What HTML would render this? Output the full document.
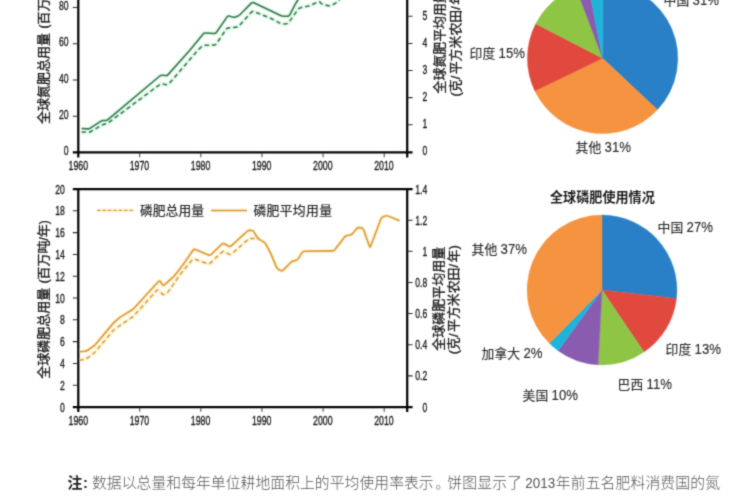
<!DOCTYPE html>
<html lang="zh"><head><meta charset="utf-8"><title>全球氮肥和磷肥使用情况</title>
<style>
html,body{margin:0;padding:0;background:#fff;overflow:hidden;width:750px;height:500px;position:relative}
svg{display:block;position:absolute;left:-10px;top:-10px;font-family:"Liberation Sans","Noto Sans CJK SC",sans-serif}
</style></head>
<body>
<svg width="770" height="520" viewBox="-10 -10 770 520">
<defs><filter id="soft" x="0" y="0" width="100%" height="100%" filterUnits="objectBoundingBox" color-interpolation-filters="sRGB"><feConvolveMatrix order="3" kernelMatrix="0.0277 0.111 0.0277 0.111 0.4452 0.111 0.0277 0.111 0.0277" divisor="1" edgeMode="duplicate" preserveAlpha="true"/></filter></defs>
<g filter="url(#soft)">
<rect x="-10" y="-10" width="770" height="520" fill="#fff"/>
<g stroke="#050505" stroke-width="2.25" fill="none">
<path d="M78.3,-8 V157.5 M407.2,-8 V157.5 M72.8,152.45 H412.6"/>
</g>
<g stroke="#2a2a2a" stroke-width="1.05" fill="none">
<path d="M72.8,116.2 H78.3 M72.8,79.95 H78.3 M72.8,43.7 H78.3 M72.8,7.45 H78.3"/>
<path d="M407.2,124.7 H412.6 M407.2,97.6 H412.6 M407.2,70.5 H412.6 M407.2,43.4 H412.6 M407.2,16.3 H412.6"/>
<path stroke-width="0.9" d="M139.72,152.45 V157.3 M200.84,152.45 V157.3 M261.96,152.45 V157.3 M323.08,152.45 V157.3 M384.2,152.45 V157.3"/>
</g>
<text transform="translate(63.7,155.05) scale(0.69,1)" font-size="12.5" fill="#1c1c1c" stroke="#1c1c1c" stroke-width="0.36">0</text>
<text transform="translate(58.91,118.8) scale(0.69,1)" font-size="12.5" fill="#1c1c1c" stroke="#1c1c1c" stroke-width="0.36">20</text>
<text transform="translate(58.91,82.55) scale(0.69,1)" font-size="12.5" fill="#1c1c1c" stroke="#1c1c1c" stroke-width="0.36">40</text>
<text transform="translate(58.91,46.3) scale(0.69,1)" font-size="12.5" fill="#1c1c1c" stroke="#1c1c1c" stroke-width="0.36">60</text>
<text transform="translate(58.91,10.05) scale(0.69,1)" font-size="12.5" fill="#1c1c1c" stroke="#1c1c1c" stroke-width="0.36">80</text>
<text transform="translate(422.6,155.2) scale(0.69,1)" font-size="12.5" fill="#1c1c1c" stroke="#1c1c1c" stroke-width="0.36">0</text>
<text transform="translate(422.6,128.1) scale(0.69,1)" font-size="12.5" fill="#1c1c1c" stroke="#1c1c1c" stroke-width="0.36">1</text>
<text transform="translate(422.6,101) scale(0.69,1)" font-size="12.5" fill="#1c1c1c" stroke="#1c1c1c" stroke-width="0.36">2</text>
<text transform="translate(422.6,73.9) scale(0.69,1)" font-size="12.5" fill="#1c1c1c" stroke="#1c1c1c" stroke-width="0.36">3</text>
<text transform="translate(422.6,46.8) scale(0.69,1)" font-size="12.5" fill="#1c1c1c" stroke="#1c1c1c" stroke-width="0.36">4</text>
<text transform="translate(422.6,19.7) scale(0.69,1)" font-size="12.5" fill="#1c1c1c" stroke="#1c1c1c" stroke-width="0.36">5</text>
<text transform="translate(68.53,170) scale(0.72,1)" font-size="12.2" fill="#1c1c1c" stroke="#1c1c1c" stroke-width="0.36">1960</text>
<text transform="translate(129.65,170) scale(0.72,1)" font-size="12.2" fill="#1c1c1c" stroke="#1c1c1c" stroke-width="0.36">1970</text>
<text transform="translate(190.77,170) scale(0.72,1)" font-size="12.2" fill="#1c1c1c" stroke="#1c1c1c" stroke-width="0.36">1980</text>
<text transform="translate(251.89,170) scale(0.72,1)" font-size="12.2" fill="#1c1c1c" stroke="#1c1c1c" stroke-width="0.36">1990</text>
<text transform="translate(313.01,170) scale(0.72,1)" font-size="12.2" fill="#1c1c1c" stroke="#1c1c1c" stroke-width="0.36">2000</text>
<text transform="translate(374.13,170) scale(0.72,1)" font-size="12.2" fill="#1c1c1c" stroke="#1c1c1c" stroke-width="0.36">2010</text>
<g transform="translate(47.8,124) rotate(-90)" fill="#1c1c1c" stroke="#1c1c1c" stroke-width="0.36" stroke-linejoin="round"><text x="0" y="0" font-size="13">全球氮肥总用量</text><text transform="translate(95.5,0) scale(0.9,1)" font-size="13" stroke-width="0.36">(</text><text x="99.4" y="0" font-size="13">百万吨</text><text transform="translate(138.4,0) scale(0.9,1)" font-size="13" stroke-width="0.36">/</text><text x="141.65" y="0" font-size="13">年</text><text transform="translate(154.65,0) scale(0.9,1)" font-size="13" stroke-width="0.36">)</text></g>
<g transform="translate(443.7,93.4) rotate(-90)" fill="#1c1c1c" stroke="#1c1c1c" stroke-width="0.36" stroke-linejoin="round"><text x="0" y="0" font-size="12.9">全球氮肥平均用量</text></g>
<g transform="translate(459.6,96.6) rotate(-90)" fill="#1c1c1c" stroke="#1c1c1c" stroke-width="0.36" stroke-linejoin="round"><text x="0" y="0" font-size="12.9">(</text><text x="4.36" y="0" font-size="12.9">克</text><text x="17.26" y="0" font-size="12.9">/</text><text x="22.32" y="0" font-size="12.9">平方米农田</text><text x="86.82" y="0" font-size="12.9">/</text><text x="91.87" y="0" font-size="12.9">年</text><text x="104.77" y="0" font-size="12.9">)</text></g>
<path d="M81.6,128.4 L87.41,128.87 Q89,129 90.33,128.12 L100.67,121.28 Q102,120.4 103.6,120.4 L105.4,120.4 Q107,120.4 108.22,119.37 L159.78,76.03 Q161,75 162.59,75.21 L165.41,75.59 Q167,75.8 168.06,74.61 L188.94,51.19 Q190,50 191.02,48.76 L202.98,34.24 Q204,33 205.6,33.08 L214,33.52 Q215.6,33.6 216.51,32.28 L227.09,16.92 Q228,15.6 229.52,16.11 L232.48,17.09 Q234,17.6 235.49,17.01 L237.51,16.19 Q239,15.6 240.12,14.46 L251.28,3.14 Q252.4,2 253.84,2.69 L280.56,15.51 Q282,16.2 283.6,16.2 L287.4,16.2 Q289,16.2 289.74,14.78 L294.26,6.02 Q295,4.6 295.85,3.24 L298.5,-1" fill="none" stroke="#c9f3d6" stroke-width="4.4" stroke-linejoin="round" opacity="0.5"/>
<path d="M81.6,132 L87.41,132.47 Q89,132.6 90.38,131.79 L100.62,125.81 Q102,125 103.52,124.49 L106.48,123.51 Q108,123 109.28,122.05 L159.72,84.55 Q161,83.6 162.57,83.91 L166.43,84.69 Q168,85 169.04,83.79 L196.96,51.21 Q198,50 199.18,48.92 L201.82,46.48 Q203,45.4 204.6,45.35 L214,45.05 Q215.6,45 216.49,43.67 L226.11,29.33 Q227,28 228.59,27.86 L236.41,27.14 Q238,27 239.07,25.81 L251.33,12.19 Q252.4,11 253.89,11.59 L268.51,17.41 Q270,18 271.42,18.73 L280.58,23.47 Q282,24.2 283.59,24.04 L286.41,23.76 Q288,23.6 288.92,22.29 L298.08,9.31 Q299,8 300.56,7.66 L308.44,5.94 Q310,5.6 311.45,4.92 L317.95,1.88 Q319.4,1.2 320.41,2.44 L320.99,3.16 Q322,4.4 323.57,4.71 L328.43,5.69 Q330,6 331.43,5.28 L334.57,3.72 Q336,3 337.13,1.87 L340,-1" fill="none" stroke="#c9f3d6" stroke-width="4.4" stroke-linejoin="round" opacity="0.5"/>
<path d="M81.6,128.4 L87.41,128.87 Q89,129 90.33,128.12 L100.67,121.28 Q102,120.4 103.6,120.4 L105.4,120.4 Q107,120.4 108.22,119.37 L159.78,76.03 Q161,75 162.59,75.21 L165.41,75.59 Q167,75.8 168.06,74.61 L188.94,51.19 Q190,50 191.02,48.76 L202.98,34.24 Q204,33 205.6,33.08 L214,33.52 Q215.6,33.6 216.51,32.28 L227.09,16.92 Q228,15.6 229.52,16.11 L232.48,17.09 Q234,17.6 235.49,17.01 L237.51,16.19 Q239,15.6 240.12,14.46 L251.28,3.14 Q252.4,2 253.84,2.69 L280.56,15.51 Q282,16.2 283.6,16.2 L287.4,16.2 Q289,16.2 289.74,14.78 L294.26,6.02 Q295,4.6 295.85,3.24 L298.5,-1" fill="none" stroke="#34784e" stroke-width="1.55" stroke-linejoin="round"/>
<path d="M81.6,132 L87.41,132.47 Q89,132.6 90.38,131.79 L100.62,125.81 Q102,125 103.52,124.49 L106.48,123.51 Q108,123 109.28,122.05 L159.72,84.55 Q161,83.6 162.57,83.91 L166.43,84.69 Q168,85 169.04,83.79 L196.96,51.21 Q198,50 199.18,48.92 L201.82,46.48 Q203,45.4 204.6,45.35 L214,45.05 Q215.6,45 216.49,43.67 L226.11,29.33 Q227,28 228.59,27.86 L236.41,27.14 Q238,27 239.07,25.81 L251.33,12.19 Q252.4,11 253.89,11.59 L268.51,17.41 Q270,18 271.42,18.73 L280.58,23.47 Q282,24.2 283.59,24.04 L286.41,23.76 Q288,23.6 288.92,22.29 L298.08,9.31 Q299,8 300.56,7.66 L308.44,5.94 Q310,5.6 311.45,4.92 L317.95,1.88 Q319.4,1.2 320.41,2.44 L320.99,3.16 Q322,4.4 323.57,4.71 L328.43,5.69 Q330,6 331.43,5.28 L334.57,3.72 Q336,3 337.13,1.87 L340,-1" fill="none" stroke="#34784e" stroke-width="1.55" stroke-linejoin="round" stroke-dasharray="4.3 3.1"/>
<g stroke="#050505" stroke-width="2.25" fill="none">
<path d="M78.3,188.0 V412 M407.2,188.0 V412 M72.8,189.0 H412.6 M72.8,407.0 H412.6"/>
</g>
<g stroke="#2a2a2a" stroke-width="1.05" fill="none">
<path d="M72.8,385.2 H78.3 M72.8,363.4 H78.3 M72.8,341.6 H78.3 M72.8,319.8 H78.3 M72.8,298 H78.3 M72.8,276.2 H78.3 M72.8,254.4 H78.3 M72.8,232.6 H78.3 M72.8,210.8 H78.3"/>
<path d="M407.2,375.86 H412.6 M407.2,344.72 H412.6 M407.2,313.58 H412.6 M407.2,282.44 H412.6 M407.2,251.3 H412.6 M407.2,220.16 H412.6"/>
<path stroke-width="0.9" d="M139.72,407.0 V411.8 M200.84,407.0 V411.8 M261.96,407.0 V411.8 M323.08,407.0 V411.8 M384.2,407.0 V411.8"/>
</g>
<text transform="translate(60,411.6) scale(0.69,1)" font-size="12.5" fill="#1c1c1c" stroke="#1c1c1c" stroke-width="0.36">0</text>
<text transform="translate(60,389.8) scale(0.69,1)" font-size="12.5" fill="#1c1c1c" stroke="#1c1c1c" stroke-width="0.36">2</text>
<text transform="translate(60,368) scale(0.69,1)" font-size="12.5" fill="#1c1c1c" stroke="#1c1c1c" stroke-width="0.36">4</text>
<text transform="translate(60,346.2) scale(0.69,1)" font-size="12.5" fill="#1c1c1c" stroke="#1c1c1c" stroke-width="0.36">6</text>
<text transform="translate(60,324.4) scale(0.69,1)" font-size="12.5" fill="#1c1c1c" stroke="#1c1c1c" stroke-width="0.36">8</text>
<text transform="translate(55.21,302.6) scale(0.69,1)" font-size="12.5" fill="#1c1c1c" stroke="#1c1c1c" stroke-width="0.36">10</text>
<text transform="translate(55.21,280.8) scale(0.69,1)" font-size="12.5" fill="#1c1c1c" stroke="#1c1c1c" stroke-width="0.36">12</text>
<text transform="translate(55.21,259) scale(0.69,1)" font-size="12.5" fill="#1c1c1c" stroke="#1c1c1c" stroke-width="0.36">14</text>
<text transform="translate(55.21,237.2) scale(0.69,1)" font-size="12.5" fill="#1c1c1c" stroke="#1c1c1c" stroke-width="0.36">16</text>
<text transform="translate(55.21,215.4) scale(0.69,1)" font-size="12.5" fill="#1c1c1c" stroke="#1c1c1c" stroke-width="0.36">18</text>
<text transform="translate(55.21,193.6) scale(0.69,1)" font-size="12.5" fill="#1c1c1c" stroke="#1c1c1c" stroke-width="0.36">20</text>
<text transform="translate(422.5,411.5) scale(0.69,1)" font-size="12.5" fill="#1c1c1c" stroke="#1c1c1c" stroke-width="0.36">0</text>
<text transform="translate(415.31,380.36) scale(0.69,1)" font-size="12.5" fill="#1c1c1c" stroke="#1c1c1c" stroke-width="0.36">0.2</text>
<text transform="translate(415.31,349.22) scale(0.69,1)" font-size="12.5" fill="#1c1c1c" stroke="#1c1c1c" stroke-width="0.36">0.4</text>
<text transform="translate(415.31,318.08) scale(0.69,1)" font-size="12.5" fill="#1c1c1c" stroke="#1c1c1c" stroke-width="0.36">0.6</text>
<text transform="translate(415.31,286.94) scale(0.69,1)" font-size="12.5" fill="#1c1c1c" stroke="#1c1c1c" stroke-width="0.36">0.8</text>
<text transform="translate(422.5,255.8) scale(0.69,1)" font-size="12.5" fill="#1c1c1c" stroke="#1c1c1c" stroke-width="0.36">1</text>
<text transform="translate(415.31,224.66) scale(0.69,1)" font-size="12.5" fill="#1c1c1c" stroke="#1c1c1c" stroke-width="0.36">1.2</text>
<text transform="translate(415.31,193.52) scale(0.69,1)" font-size="12.5" fill="#1c1c1c" stroke="#1c1c1c" stroke-width="0.36">1.4</text>
<text transform="translate(68.53,424.9) scale(0.72,1)" font-size="12.2" fill="#1c1c1c" stroke="#1c1c1c" stroke-width="0.36">1960</text>
<text transform="translate(129.65,424.9) scale(0.72,1)" font-size="12.2" fill="#1c1c1c" stroke="#1c1c1c" stroke-width="0.36">1970</text>
<text transform="translate(190.77,424.9) scale(0.72,1)" font-size="12.2" fill="#1c1c1c" stroke="#1c1c1c" stroke-width="0.36">1980</text>
<text transform="translate(251.89,424.9) scale(0.72,1)" font-size="12.2" fill="#1c1c1c" stroke="#1c1c1c" stroke-width="0.36">1990</text>
<text transform="translate(313.01,424.9) scale(0.72,1)" font-size="12.2" fill="#1c1c1c" stroke="#1c1c1c" stroke-width="0.36">2000</text>
<text transform="translate(374.13,424.9) scale(0.72,1)" font-size="12.2" fill="#1c1c1c" stroke="#1c1c1c" stroke-width="0.36">2010</text>
<g transform="translate(47.7,378.8) rotate(-90)" fill="#1c1c1c" stroke="#1c1c1c" stroke-width="0.36" stroke-linejoin="round"><text x="0" y="0" font-size="13">全球磷肥总用量</text><text transform="translate(95.5,0) scale(0.9,1)" font-size="13" stroke-width="0.36">(</text><text x="99.4" y="0" font-size="13">百万吨</text><text transform="translate(138.4,0) scale(0.9,1)" font-size="13" stroke-width="0.36">/</text><text x="141.65" y="0" font-size="13">年</text><text transform="translate(154.65,0) scale(0.9,1)" font-size="13" stroke-width="0.36">)</text></g>
<g transform="translate(442.9,350.8) rotate(-90)" fill="#1c1c1c" stroke="#1c1c1c" stroke-width="0.36" stroke-linejoin="round"><text x="0" y="0" font-size="13">全球磷肥平均用量</text></g>
<g transform="translate(458.4,354.3) rotate(-90)" fill="#1c1c1c" stroke="#1c1c1c" stroke-width="0.36" stroke-linejoin="round"><text x="0" y="0" font-size="12.9">(</text><text x="4.36" y="0" font-size="12.9">克</text><text x="17.26" y="0" font-size="12.9">/</text><text x="22.32" y="0" font-size="12.9">平方米农田</text><text x="86.82" y="0" font-size="12.9">/</text><text x="91.87" y="0" font-size="12.9">年</text><text x="104.77" y="0" font-size="12.9">)</text></g>
<path d="M79.2,351.7 L84.8,351.31 Q86.4,351.2 87.7,350.27 L93.5,346.13 Q94.8,345.2 95.83,343.98 L112.97,323.62 Q114,322.4 115.23,321.38 L119.97,317.42 Q121.2,316.4 122.57,315.58 L131.83,310.02 Q133.2,309.2 134.28,308.02 L144.12,297.18 Q145.2,296 146.29,294.82 L158.51,281.58 Q159.6,280.4 160.48,281.74 L162.32,284.56 Q163.2,285.9 164.4,284.84 L172.8,277.36 Q174,276.3 174.99,275.05 L180.21,268.45 Q181.2,267.2 182.12,265.89 L193.08,250.31 Q194,249 195.48,249.61 L208.52,254.99 Q210,255.6 211.15,254.49 L221.85,244.11 Q223,243 224.39,243.79 L228.61,246.21 Q230,247 231.18,245.92 L247.22,231.28 Q248.4,230.2 249.99,230.37 L251.61,230.53 Q253.2,230.7 254.03,232.07 L257.17,237.23 Q258,238.6 259.37,239.42 L263.83,242.08 Q265.2,242.9 265.94,244.32 L270.46,252.98 Q271.2,254.4 271.82,255.88 L276.58,267.32 Q277.2,268.8 278.63,269.52 L280.57,270.48 Q282,271.2 283.13,270.07 L290.47,262.73 Q291.6,261.6 293.13,261.12 L296.07,260.18 Q297.6,259.7 298.45,258.35 L302.05,252.65 Q302.9,251.3 304.5,251.27 L332.4,250.83 Q334,250.8 334.97,249.53 L344.63,236.97 Q345.6,235.7 347.18,235.44 L350.02,234.96 Q351.6,234.7 352.62,233.47 L356.58,228.73 Q357.6,227.5 359.19,227.65 L361.31,227.85 Q362.9,228 363.44,229.51 L369.46,246.19 Q370,247.7 370.57,246.2 L381.03,218.7 Q381.6,217.2 383.12,216.71 L385.38,215.99 Q386.9,215.5 388.38,216.12 L399.6,220.8" fill="none" stroke="#fdebb4" stroke-width="4.2" stroke-linejoin="round" opacity="0.5"/>
<path d="M79.2,360.3 L84.83,359.21 Q86.4,358.9 87.67,357.92 L93.53,353.38 Q94.8,352.4 95.83,351.18 L112.97,330.82 Q114,329.6 115.32,328.69 L131.88,317.31 Q133.2,316.4 134.28,315.22 L156.62,290.58 Q157.7,289.4 158.83,290.53 L162.17,293.87 Q163.3,295 164.67,294.18 L166.63,293.02 Q168,292.2 168.9,290.88 L179.2,275.82 Q180.1,274.5 181.12,273.27 L192.18,259.83 Q193.2,258.6 194.71,259.13 L207.49,263.67 Q209,264.2 210.17,263.11 L221.83,252.19 Q223,251.1 224.43,251.82 L229.07,254.18 Q230.5,254.9 231.7,253.84 L248,239.46 Q249.2,238.4 250.8,238.42 L258.5,238.5" fill="none" stroke="#fdebb4" stroke-width="4.2" stroke-linejoin="round" opacity="0.5"/>
<path d="M79.2,351.7 L84.8,351.31 Q86.4,351.2 87.7,350.27 L93.5,346.13 Q94.8,345.2 95.83,343.98 L112.97,323.62 Q114,322.4 115.23,321.38 L119.97,317.42 Q121.2,316.4 122.57,315.58 L131.83,310.02 Q133.2,309.2 134.28,308.02 L144.12,297.18 Q145.2,296 146.29,294.82 L158.51,281.58 Q159.6,280.4 160.48,281.74 L162.32,284.56 Q163.2,285.9 164.4,284.84 L172.8,277.36 Q174,276.3 174.99,275.05 L180.21,268.45 Q181.2,267.2 182.12,265.89 L193.08,250.31 Q194,249 195.48,249.61 L208.52,254.99 Q210,255.6 211.15,254.49 L221.85,244.11 Q223,243 224.39,243.79 L228.61,246.21 Q230,247 231.18,245.92 L247.22,231.28 Q248.4,230.2 249.99,230.37 L251.61,230.53 Q253.2,230.7 254.03,232.07 L257.17,237.23 Q258,238.6 259.37,239.42 L263.83,242.08 Q265.2,242.9 265.94,244.32 L270.46,252.98 Q271.2,254.4 271.82,255.88 L276.58,267.32 Q277.2,268.8 278.63,269.52 L280.57,270.48 Q282,271.2 283.13,270.07 L290.47,262.73 Q291.6,261.6 293.13,261.12 L296.07,260.18 Q297.6,259.7 298.45,258.35 L302.05,252.65 Q302.9,251.3 304.5,251.27 L332.4,250.83 Q334,250.8 334.97,249.53 L344.63,236.97 Q345.6,235.7 347.18,235.44 L350.02,234.96 Q351.6,234.7 352.62,233.47 L356.58,228.73 Q357.6,227.5 359.19,227.65 L361.31,227.85 Q362.9,228 363.44,229.51 L369.46,246.19 Q370,247.7 370.57,246.2 L381.03,218.7 Q381.6,217.2 383.12,216.71 L385.38,215.99 Q386.9,215.5 388.38,216.12 L399.6,220.8" fill="none" stroke="#dd9836" stroke-width="1.6" stroke-linejoin="round"/>
<path d="M79.2,360.3 L84.83,359.21 Q86.4,358.9 87.67,357.92 L93.53,353.38 Q94.8,352.4 95.83,351.18 L112.97,330.82 Q114,329.6 115.32,328.69 L131.88,317.31 Q133.2,316.4 134.28,315.22 L156.62,290.58 Q157.7,289.4 158.83,290.53 L162.17,293.87 Q163.3,295 164.67,294.18 L166.63,293.02 Q168,292.2 168.9,290.88 L179.2,275.82 Q180.1,274.5 181.12,273.27 L192.18,259.83 Q193.2,258.6 194.71,259.13 L207.49,263.67 Q209,264.2 210.17,263.11 L221.83,252.19 Q223,251.1 224.43,251.82 L229.07,254.18 Q230.5,254.9 231.7,253.84 L248,239.46 Q249.2,238.4 250.8,238.42 L258.5,238.5" fill="none" stroke="#dd9836" stroke-width="1.5" stroke-linejoin="round" stroke-dasharray="4.3 3.1"/>
<path d="M97,210.4 L134,210.4" fill="none" stroke="#fdebb4" stroke-width="4" stroke-linejoin="round" opacity="0.5"/>
<path d="M211,210.4 L247,210.4" fill="none" stroke="#fdebb4" stroke-width="4" stroke-linejoin="round" opacity="0.5"/>
<path d="M97,210.4 L134.2,210.4" fill="none" stroke="#dd9836" stroke-width="1.3" stroke-linejoin="round" stroke-dasharray="3.5 1.9"/>
<path d="M211,210.4 L247,210.4" fill="none" stroke="#dd9836" stroke-width="1.5" stroke-linejoin="round"/>
<g transform="translate(140,215)" fill="#2b2b2b" stroke="#2b2b2b" stroke-width="0.22" stroke-linejoin="round"><text x="0" y="0" font-size="12.8">磷肥总用量</text></g>
<g transform="translate(253.4,215)" fill="#2b2b2b" stroke="#2b2b2b" stroke-width="0.22" stroke-linejoin="round"><text x="0" y="0" font-size="12.8" letter-spacing="0.35">磷肥平均用量</text></g>
<path d="M602.6,58.3 L602.6,-16.9 A75.2,75.2 0 0 1 657.42,109.78 Z" fill="#2a80c6" stroke="#2a80c6" stroke-width="0.4"/><path d="M602.6,58.3 L657.42,109.78 A75.2,75.2 0 0 1 534.9,91.03 Z" fill="#f59340" stroke="#f59340" stroke-width="0.4"/><path d="M602.6,58.3 L534.9,91.03 A75.2,75.2 0 0 1 535.78,23.81 Z" fill="#e1493f" stroke="#e1493f" stroke-width="0.4"/><path d="M602.6,58.3 L535.78,23.81 A75.2,75.2 0 0 1 576.02,-12.05 Z" fill="#8ec544" stroke="#8ec544" stroke-width="0.4"/><path d="M602.6,58.3 L576.02,-12.05 A75.2,75.2 0 0 1 588.12,-15.49 Z" fill="#8a5cb0" stroke="#8a5cb0" stroke-width="0.4"/><path d="M602.6,58.3 L588.12,-15.49 A75.2,75.2 0 0 1 602.6,-16.9 Z" fill="#1cb4d9" stroke="#1cb4d9" stroke-width="0.4"/>
<path d="M602,290 L602,215.1 A74.9,74.9 0 0 1 676.42,298.48 Z" fill="#2a80c6" stroke="#2a80c6" stroke-width="0.4"/><path d="M602,290 L676.42,298.48 A74.9,74.9 0 0 1 643.99,352.02 Z" fill="#e1493f" stroke="#e1493f" stroke-width="0.4"/><path d="M602,290 L643.99,352.02 A74.9,74.9 0 0 1 598.08,364.8 Z" fill="#8ec544" stroke="#8ec544" stroke-width="0.4"/><path d="M602,290 L598.08,364.8 A74.9,74.9 0 0 1 558.08,350.67 Z" fill="#8a5cb0" stroke="#8a5cb0" stroke-width="0.4"/><path d="M602,290 L558.08,350.67 A74.9,74.9 0 0 1 549.41,343.33 Z" fill="#1cb4d9" stroke="#1cb4d9" stroke-width="0.4"/><path d="M602,290 L549.41,343.33 A74.9,74.9 0 0 1 602,215.1 Z" fill="#f59340" stroke="#f59340" stroke-width="0.4"/>
<g transform="translate(663.6,4.7)" fill="#2b2b2b" stroke="#2b2b2b" stroke-width="0.12" stroke-linejoin="round"><text x="0" y="0" font-size="12.8">中国</text><text transform="translate(29,0) scale(0.95,1)" font-size="13.9" stroke-width="0.12">31%</text></g>
<g transform="translate(469.6,57.7)" fill="#2b2b2b" stroke="#2b2b2b" stroke-width="0.12" stroke-linejoin="round"><text x="0" y="0" font-size="12.8">印度</text><text transform="translate(29,0) scale(0.95,1)" font-size="13.9" stroke-width="0.12">15%</text></g>
<g transform="translate(575.6,151.9)" fill="#2b2b2b" stroke="#2b2b2b" stroke-width="0.12" stroke-linejoin="round"><text x="0" y="0" font-size="12.8">其他</text><text transform="translate(29,0) scale(0.95,1)" font-size="13.9" stroke-width="0.12">31%</text></g>
<g transform="translate(657.6,232.1)" fill="#2b2b2b" stroke="#2b2b2b" stroke-width="0.12" stroke-linejoin="round"><text x="0" y="0" font-size="12.8">中国</text><text transform="translate(29,0) scale(0.95,1)" font-size="13.9" stroke-width="0.12">27%</text></g>
<g transform="translate(471.6,254.1)" fill="#2b2b2b" stroke="#2b2b2b" stroke-width="0.12" stroke-linejoin="round"><text x="0" y="0" font-size="12.8">其他</text><text transform="translate(29,0) scale(0.95,1)" font-size="13.9" stroke-width="0.12">37%</text></g>
<g transform="translate(665.6,353.9)" fill="#2b2b2b" stroke="#2b2b2b" stroke-width="0.12" stroke-linejoin="round"><text x="0" y="0" font-size="12.8">印度</text><text transform="translate(29,0) scale(0.95,1)" font-size="13.9" stroke-width="0.12">13%</text></g>
<g transform="translate(481.6,357.9)" fill="#2b2b2b" stroke="#2b2b2b" stroke-width="0.12" stroke-linejoin="round"><text x="0" y="0" font-size="12.8">加拿大</text><text transform="translate(41.8,0) scale(0.95,1)" font-size="13.9" stroke-width="0.12">2%</text></g>
<g transform="translate(617.6,389.1)" fill="#2b2b2b" stroke="#2b2b2b" stroke-width="0.12" stroke-linejoin="round"><text x="0" y="0" font-size="12.8">巴西</text><text transform="translate(29,0) scale(0.95,1)" font-size="13.9" stroke-width="0.12">11%</text></g>
<g transform="translate(522.6,400.1)" fill="#2b2b2b" stroke="#2b2b2b" stroke-width="0.12" stroke-linejoin="round"><text x="0" y="0" font-size="12.8">美国</text><text transform="translate(29,0) scale(0.95,1)" font-size="13.9" stroke-width="0.12">10%</text></g>
<g transform="translate(602.4,201.6)" fill="#1c1c1c"><text x="0" y="0" font-size="13.1" font-weight="bold" text-anchor="middle">全球磷肥使用情况</text></g>
<g transform="translate(67.4,487.8)" fill="#222"><text x="0" y="0" font-size="14.8" font-weight="bold">注</text></g>
<g transform="translate(82.9,487.8)" fill="#222"><text x="0" y="0" font-size="14.8" font-weight="bold">:</text></g>
<g transform="translate(92,487.8)" fill="#555"><text x="0" y="0" font-size="14.8" font-weight="300" letter-spacing="0.06">数据以总量和每年单位耕地面积上的平均使用率表示</text></g>
<g transform="translate(435.18,487.8)" fill="#555"><text x="0" y="0" font-size="14.8" font-weight="300">。</text></g>
<g transform="translate(447.3,487.8)" fill="#555"><text x="0" y="0" font-size="14.8" font-weight="300" letter-spacing="0.16">饼图显示了</text></g>
<text transform="translate(525.2,487.8) scale(0.95,1)" font-size="14.2" fill="#555">2013</text>
<g transform="translate(555.8,487.8)" fill="#555"><text x="0" y="0" font-size="14.8" font-weight="300" letter-spacing="0.14">年前五名肥料消费国的氮</text></g>
</g>
</svg>
</body></html>
